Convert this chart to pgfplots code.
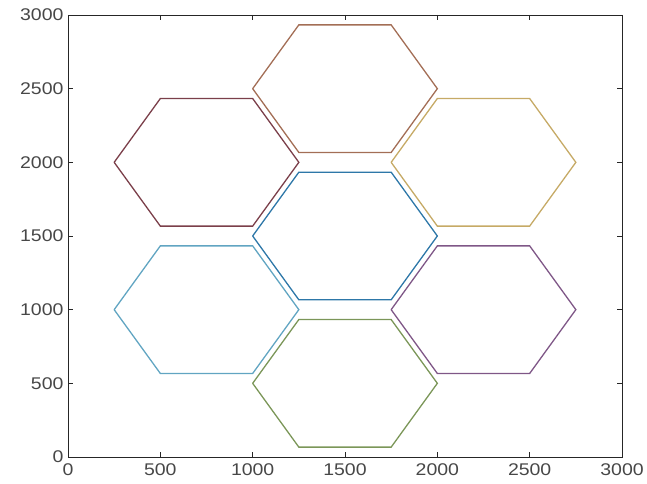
\documentclass[border=0pt]{standalone}
\usepackage{fontspec}
\setmainfont{Liberation Sans}
\usepackage{graphicx}
\usepackage{pgfplots}
\pgfplotsset{compat=1.18}
\definecolor{m1}{rgb}{0.0,0.447,0.741}
\definecolor{m2}{rgb}{0.85,0.325,0.098}
\definecolor{m3}{rgb}{0.929,0.694,0.125}
\definecolor{m4}{rgb}{0.494,0.184,0.556}
\definecolor{m5}{rgb}{0.466,0.674,0.188}
\definecolor{m6}{rgb}{0.301,0.745,0.933}
\definecolor{m7}{rgb}{0.635,0.078,0.184}
\definecolor{axc}{rgb}{0.15,0.15,0.15}
\begin{document}
\begin{tikzpicture}
\begin{axis}[
  at={(0,0)}, anchor=south west,
  scale only axis, width=554bp, height=442bp,
  xmin=0, xmax=3000, ymin=0, ymax=3000,
  xtick={0,500,...,3000}, ytick={0,500,...,3000},
  tick align=inside, major tick length=5bp,
  axis line style={axc, line width=0.9bp},
  every tick/.style={axc, line width=0.9bp},
  tick label style={font=\fontsize{17}{19}\selectfont, text=axc!85},
  xticklabel={\scalebox{1.15}[1]{\pgfmathprintnumber[assume math mode=true]{\tick}}},
  yticklabel={\scalebox{1.15}[1]{\pgfmathprintnumber[assume math mode=true]{\tick}}},
  xticklabel style={yshift=-3bp},
  yticklabel style={xshift=-1bp},
  /pgf/number format/1000 sep={},
  clip=false,
]
% center (1500,1500)
\addplot[m1!65!gray, line width=1.3bp] coordinates {(1000,1500) (1250,1933) (1750,1933) (2000,1500) (1750,1067) (1250,1067) (1000,1500)};
% top (1500,2500)
\addplot[m2!40!gray, line width=1.3bp] coordinates {(1000,2500) (1250,2933) (1750,2933) (2000,2500) (1750,2067) (1250,2067) (1000,2500)};
% top-right (2250,2000)
\addplot[m3!55!gray!85!white, line width=1.3bp] coordinates {(1750,2000) (2000,2433) (2500,2433) (2750,2000) (2500,1567) (2000,1567) (1750,2000)};
% bottom-right (2250,1000)
\addplot[m4!50!gray, line width=1.3bp] coordinates {(1750,1000) (2000,1433) (2500,1433) (2750,1000) (2500,567) (2000,567) (1750,1000)};
% bottom (1500,500)
\addplot[m5!50!gray, line width=1.3bp] coordinates {(1000,500) (1250,933) (1750,933) (2000,500) (1750,67) (1250,67) (1000,500)};
% bottom-left (750,1000)
\addplot[m6!60!gray, line width=1.3bp] coordinates {(250,1000) (500,1433) (1000,1433) (1250,1000) (1000,567) (500,567) (250,1000)};
% top-left (750,2000)
\addplot[m7!50!gray!85!black, line width=1.3bp] coordinates {(250,2000) (500,2433) (1000,2433) (1250,2000) (1000,1567) (500,1567) (250,2000)};
\end{axis}
\path (-68bp,-27bp) rectangle ++(647bp,484bp);
\end{tikzpicture}
\end{document}
